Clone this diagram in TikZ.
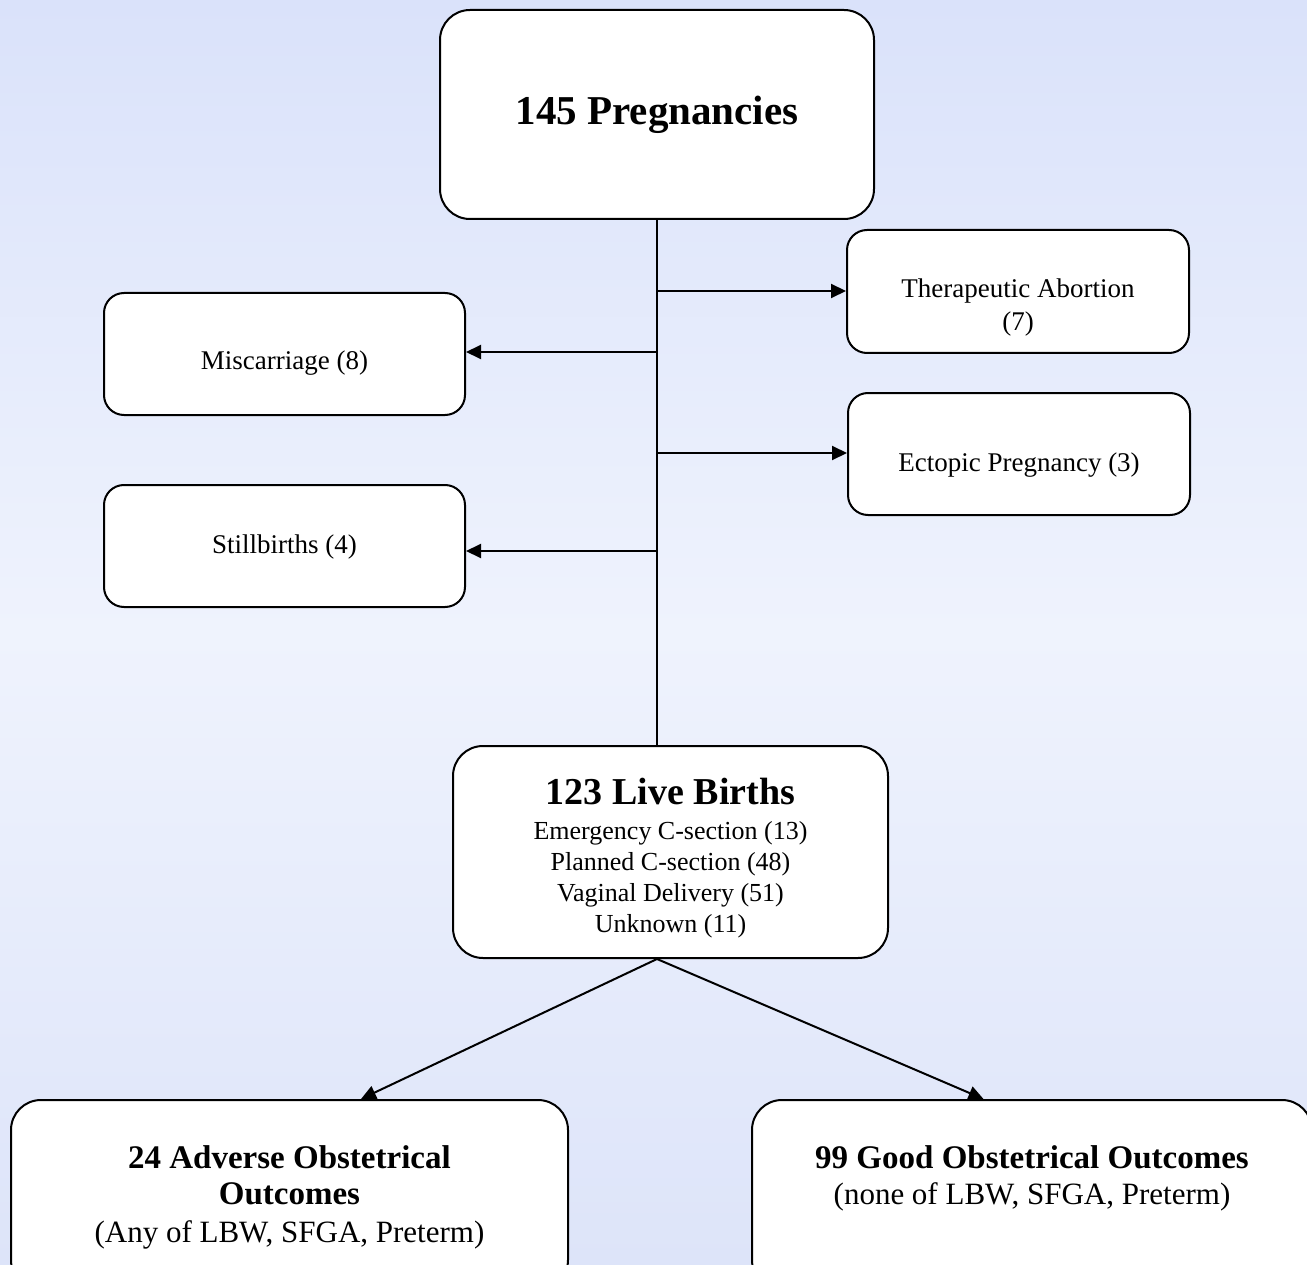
\documentclass[tikz,border=0pt]{standalone}
\usepackage{fontspec}
\setmainfont{Liberation Serif}
\usetikzlibrary{arrows.meta}
\definecolor{bgtop}{RGB}{218,226,250}
\definecolor{bgmid}{RGB}{239,243,253}
\definecolor{bgbot}{RGB}{221,228,249}
\begin{document}
\begin{tikzpicture}[x=1pt,y=-1pt,
  box/.style={draw=black, line width=2pt, fill=white, rounded corners=#1, inner sep=0pt, align=center},
  box/.default=20pt,
  txt/.style={font=\fontsize{27}{33}\selectfont, align=center},
  conn/.style={line width=2pt, -{Triangle[length=15pt,width=14pt]}},
  trunk/.style={line width=2pt}]
\useasboundingbox (0,0) rectangle (1307,1265);
\clip (0,0) rectangle (1307,1265);
\shade[top color=bgtop, bottom color=bgbot, middle color=bgmid] (0,0) rectangle (1307,1265);

% nodes
\node[box=30pt, minimum width=434pt, minimum height=209pt, font=\fontsize{41}{41}\selectfont\bfseries] (preg) at (657,114.5) {145 Pregnancies};
\node[box, minimum width=342pt, minimum height=123pt,
  label={[txt, yshift=-16pt]center:{Therapeutic Abortion\\(7)}}] (ther) at (1018,291.5) {};
\node[box, minimum width=361pt, minimum height=122pt,
  label={[txt, yshift=-9pt]center:{Miscarriage (8)}}] (misc) at (284.5,354) {};
\node[box, minimum width=342pt, minimum height=122pt,
  label={[txt, yshift=-11pt]center:{Ectopic Pregnancy (3)}}] (ecto) at (1019,454) {};
\node[box, minimum width=361pt, minimum height=122pt,
  label={[txt, yshift=-1pt]center:{Stillbirths (4)}}] (still) at (284.5,546) {};
\node[box=30pt, minimum width=435pt, minimum height=212pt,
  label={[align=center, font=\fontsize{26}{31}\selectfont, yshift=-6pt]center:{{\fontsize{38}{38}\selectfont\bfseries 123 Live Births}\\[4pt]Emergency C-section (13)\\Planned C-section (48)\\Vaginal Delivery (51)\\Unknown (11)}}] (live) at (670.5,852) {};
\node[box=30pt, minimum width=557pt, minimum height=190pt, anchor=north west,
  label={[anchor=north, yshift=-43pt, align=center, font=\fontsize{31}{36}\selectfont]north:{\textbf{\fontsize{33}{36}\selectfont 24 Adverse Obstetrical}\\\textbf{\fontsize{33}{36}\selectfont Outcomes}\\[2pt](Any of LBW, SFGA, Preterm)}}] (adv) at (10,1099) {};
\node[box=30pt, minimum width=560pt, minimum height=190pt, anchor=north west,
  label={[anchor=north, yshift=-43pt, align=center, font=\fontsize{31}{36}\selectfont]north:{\textbf{\fontsize{33}{36}\selectfont 99 Good Obstetrical Outcomes}\\(none of LBW, SFGA, Preterm)}}] (good) at (751,1099) {};

% trunk
\coordinate (top) at (preg.south);
\coordinate (bot) at (preg.south |- live.north);
\draw[trunk] (top) -- (bot);
\coordinate (b1) at (657,291);
\coordinate (b2) at (657,352);
\coordinate (b3) at (657,453);
\coordinate (b4) at (657,551);
\draw[conn] (b1) -- (b1 -| ther.west);
\draw[conn] (b2) -- (b2 -| misc.east);
\draw[conn] (b3) -- (b3 -| ecto.west);
\draw[conn] (b4) -- (b4 -| still.east);

% diagonals
\coordinate (ls) at (preg.south |- live.south);
\draw[conn] (ls) -- ([xshift=71.5pt]adv.north);
\draw[conn] (ls) -- ([xshift=-48.5pt]good.north);
\end{tikzpicture}
\end{document}
